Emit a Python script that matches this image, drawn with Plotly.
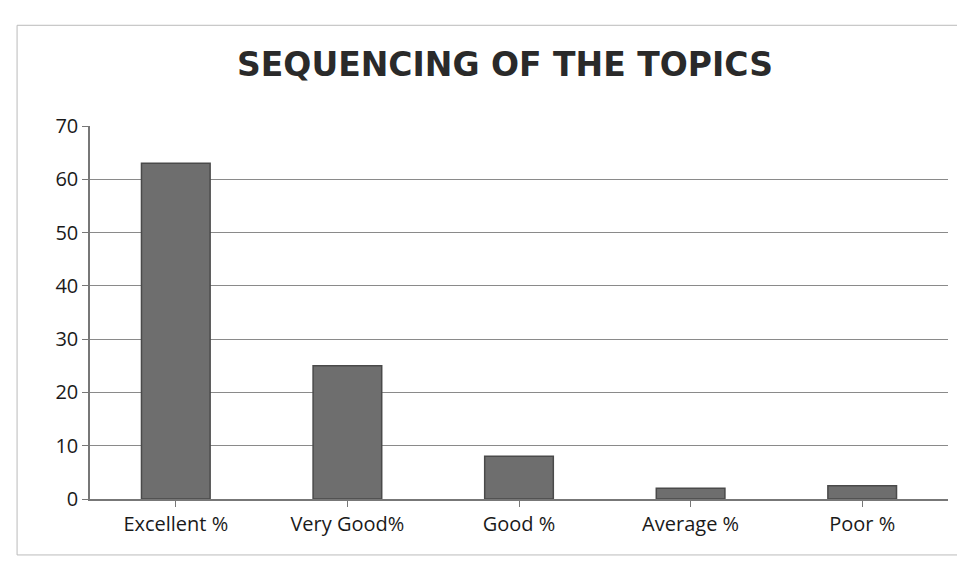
import plotly.graph_objects as go

categories = ["Excellent %", "Very Good%", "Good %", "Average %", "Poor %"]
values = [63, 25, 8, 2, 2.5]

fig = go.Figure()
fig.add_trace(go.Bar(
    x=categories, y=values, width=0.4,
    marker=dict(color="#6e6e6e", line=dict(color="#4a4a4a", width=1.5)),
))

fig.update_layout(
    width=965, height=561,
    paper_bgcolor="white", plot_bgcolor="white",
    margin=dict(l=82, r=25, t=118, b=70),
    title=dict(text="<b>SEQUENCING OF THE TOPICS</b>", x=0.515, xanchor="center", y=0.92,
               font=dict(family="DejaVu Sans", size=33, color="#2a2a2a")),
    font=dict(family="Open Sans", size=20, color="#1a1a1a"),
    showlegend=False,
)
fig.update_xaxes(showline=True, linecolor="#777777", linewidth=1.5, ticks="outside",
                 tickcolor="#777777", ticklen=6, tickfont=dict(size=20))
fig.update_yaxes(range=[0, 70], dtick=10, showgrid=True, gridcolor="#8a8a8a", gridwidth=1,
                 showline=True, linecolor="#777777", linewidth=1.5, ticks="outside",
                 tickcolor="#777777", ticklen=6, tickfont=dict(size=20), zeroline=False)

fig.add_shape(type="rect", xref="paper", yref="paper", x0=-0.085, x1=1.02, y0=-0.15, y1=1.27,
              line=dict(color="#bbbbbb", width=1))

fig.write_html("out.html")
